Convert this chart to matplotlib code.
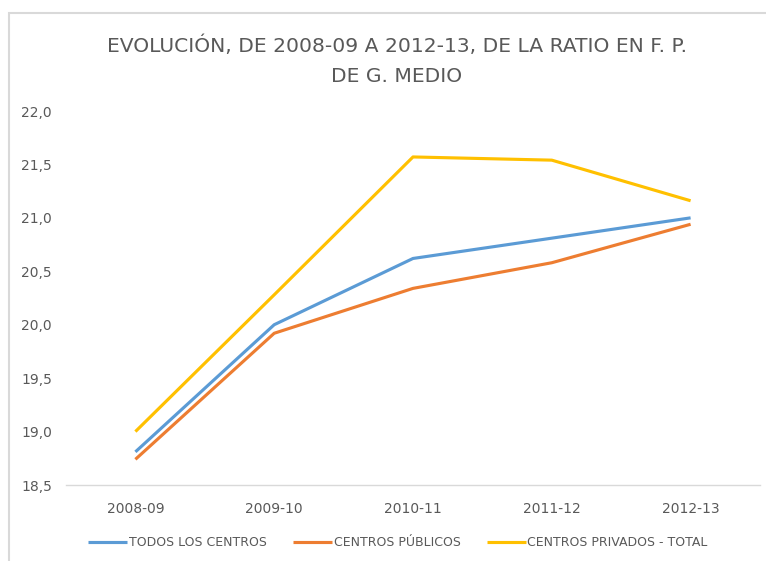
import numpy as np
import matplotlib
matplotlib.use("Agg")
import matplotlib.pyplot as plt
from matplotlib.patches import Rectangle

cursos = ["2008-09", "2009-10", "2010-11", "2011-12", "2012-13"]
todos = [18.81, 20.00, 20.62, 20.81, 21.00]
publicos = [18.74, 19.92, 20.34, 20.58, 20.94]
privados = [19.00, 20.28, 21.57, 21.54, 21.16]
yticks = [18.5, 19.0, 19.5, 20.0, 20.5, 21.0, 21.5, 22.0]

plt.rcParams['font.family'] = ['DejaVu Sans']
gris = '#595959'

fig = plt.figure(figsize=(7.66, 5.61), dpi=100)
ax = fig.add_axes([66/766, 1-485/561, (760-66)/766, (485-111)/561])

x = np.arange(len(cursos))
ax.plot(x, todos, color='#5B9BD5', lw=2.25, label='TODOS LOS CENTROS', solid_capstyle='butt')
ax.plot(x, publicos, color='#ED7D31', lw=2.25, label='CENTROS PÚBLICOS', solid_capstyle='butt')
ax.plot(x, privados, color='#FFC000', lw=2.25, label='CENTROS PRIVADOS - TOTAL', solid_capstyle='butt')

ax.set_xlim(-0.5, len(cursos)-0.5)
ax.set_ylim(18.5, 22.0)
ax.set_xticks(x)
ax.set_xticklabels(cursos)
ax.set_yticks(yticks)
ax.set_yticklabels([f"{v:.1f}".replace('.', ',') for v in yticks])
ax.tick_params(axis='both', length=0, labelsize=10, labelcolor=gris)
ax.tick_params(axis='y', pad=10)
ax.tick_params(axis='x', pad=12.5)
for s in ['top', 'right', 'left']:
    ax.spines[s].set_visible(False)
ax.spines['bottom'].set_color('#d9d9d9')
ax.spines['bottom'].set_linewidth(1)

fig.text(397/766, 1-52/561, "EVOLUCIÓN, DE 2008-09 A 2012-13, DE LA RATIO EN F. P.",
         ha='center', va='baseline', fontsize=14.6, color=gris)
fig.text(397/766, 1-82/561, "DE G. MEDIO",
         ha='center', va='baseline', fontsize=14.6, color=gris)

fig.legend(loc='center', bbox_to_anchor=(398/766, 1-543/561), ncol=3, frameon=False,
           fontsize=9, labelcolor=gris, handlelength=3.1, handletextpad=0.15,
           columnspacing=2.1)

# marco del grafico
fig.patches.append(Rectangle((9/766, -0.05), 1.1, 1-13/561+0.05, transform=fig.transFigure,
                             fill=False, edgecolor='#d9d9d9', lw=1.5))

fig.savefig('out.png', dpi=100)
